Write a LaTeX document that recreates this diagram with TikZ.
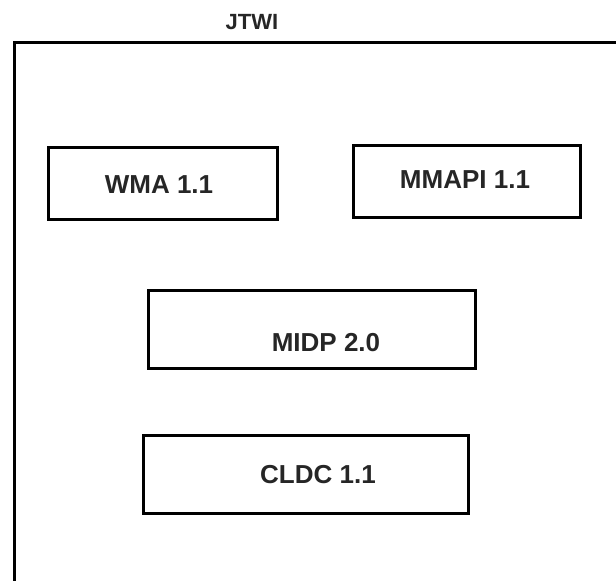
\documentclass[tikz,border=0pt]{standalone}
\usepackage{fontspec}
\setmainfont{Liberation Sans}
\begin{document}
\begin{tikzpicture}[x=1pt,y=-1pt,
  box/.style={draw=black,line width=3pt,inner sep=0pt},
  lbl/.style={font=\fontsize{26}{28}\selectfont\bfseries,text=black!85,inner sep=0pt},
  ttl/.style={font=\fontsize{22}{24}\selectfont\bfseries,text=black!85,inner sep=0pt}]
\useasboundingbox (0,0) rectangle (616,581);
\begin{scope}
\clip (0,0) rectangle (616,581);
\draw[line width=3pt] (14,600) -- (14,42) -- (640,42);
\end{scope}
\node[ttl] (jtwi) at (252,22) {JTWI};
\node[box,minimum width=229pt,minimum height=72pt] (wma) at (162.5,183) {};
\node[lbl] (wmat) at (159,185) {WMA 1.1};
\node[box,minimum width=227pt,minimum height=72pt] (mmapi) at (466.5,181) {};
\node[lbl] (mmapit) at (465,180) {MMAPI 1.1};
\node[box,minimum width=327pt,minimum height=78pt] (midp) at (311.5,329) {};
\node[lbl] (midpt) at (326,343) {MIDP 2.0};
\node[box,minimum width=325pt,minimum height=78pt] (cldc) at (305.5,474) {};
\node[lbl] (cldct) at (318,475) {CLDC 1.1};
\end{tikzpicture}
\end{document}
